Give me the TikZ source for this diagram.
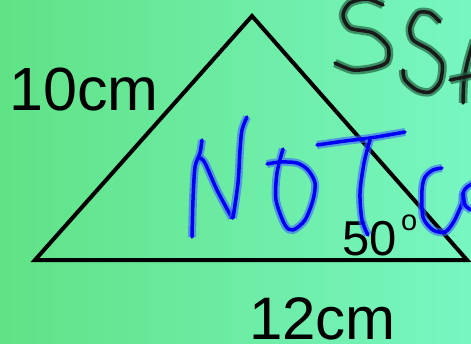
\documentclass[tikz,border=0pt]{standalone}
\usepackage{fontspec}
\setmainfont{Liberation Sans}

\definecolor{bgleft}{RGB}{96,226,134}
\definecolor{bgright}{RGB}{120,246,194}
\definecolor{inkblue}{RGB}{0,0,245}
\definecolor{haloblue}{RGB}{60,100,250}
\definecolor{halogreen}{RGB}{35,100,65}

\tikzset{
    blueink/.style={draw=inkblue, line width=3.5pt, line cap=round, line join=round,
        preaction={draw=haloblue, draw opacity=0.6, line width=8pt}},
    darkink/.style={draw=black!90, line width=3.5pt, line cap=round, line join=round,
        preaction={draw=halogreen, draw opacity=0.7, line width=8.5pt}},
    label/.style={anchor=base west, inner sep=0pt}
}

\begin{document}
\begin{tikzpicture}[x=1pt, y=-1pt]
    % Background
    \useasboundingbox (0, 0) rectangle (471, 343);
    \clip (0, 0) rectangle (471, 343);
    \shade[left color=bgleft, right color=bgright] (0, 0) rectangle (471, 343);

    % Triangle
    \coordinate (left) at (35, 260);
    \coordinate (top) at (252, 16);
    \coordinate (right) at (467, 260);
    \draw[line width=4pt] (left) -- (top) -- (right) -- cycle;

    % Side and angle labels
    \node[label, font=\fontsize{61}{61}\selectfont] (side) at (9, 110) {10cm};
    \node[label, font=\fontsize{60}{60}\selectfont] (base) at (249, 339) {12cm};
    \node[label, font=\fontsize{49}{49}\selectfont] (angle) at (342, 255) {50};
    \node[label, font=\fontsize{29}{29}\selectfont] (degree) at (401, 230) {o};

    % SSA
    \draw[darkink] plot[smooth] coordinates {(383,5) (367,-1) (350,3) (343,15) (350,28) (373,33) (388,47) (387,62) (373,68) (353,70) (335,63)};
    \draw[darkink] plot[smooth] coordinates {(440,22) (430,13) (418,13) (410,27) (413,40) (430,50) (442,63) (440,82) (430,92) (417,90) (405,80) (403,70)};
    \draw[darkink] plot[smooth] coordinates {(463,103) (464,80) (468,60) (474,40)};
    \draw[darkink] (450,80) -- (474,75);

    % NOT co
    \draw[blueink] plot[smooth] coordinates {(192,237) (193,200) (195,167) (200,153) (202,140)};
    \draw[blueink] plot[smooth] coordinates {(200,158) (205,163) (217,190) (232,218)};
    \draw[blueink] plot[smooth] coordinates {(233,218) (238,183) (240,150) (242,130) (247,117)};
    \draw[blueink] plot[smooth] coordinates {(283,149) (277,173) (276,200) (285,225) (293,230) (305,220) (313,200) (315,183) (308,170) (297,163) (280,162) (267,164)};
    \draw[blueink] plot[smooth] coordinates {(317,145) (345,141) (370,138) (405,132)};
    \draw[blueink] plot[smooth] coordinates {(370,140) (364,163) (360,193) (362,220) (368,235)};
    \draw[blueink] plot[smooth] coordinates {(442,168) (433,170) (425,177) (422,190) (423,217) (433,230) (445,232) (453,223) (458,213) (462,203) (463,193) (467,187) (474,183)};
    \draw[blueink] plot[smooth] coordinates {(463,193) (465,205) (471,210)};
\end{tikzpicture}
\end{document}
